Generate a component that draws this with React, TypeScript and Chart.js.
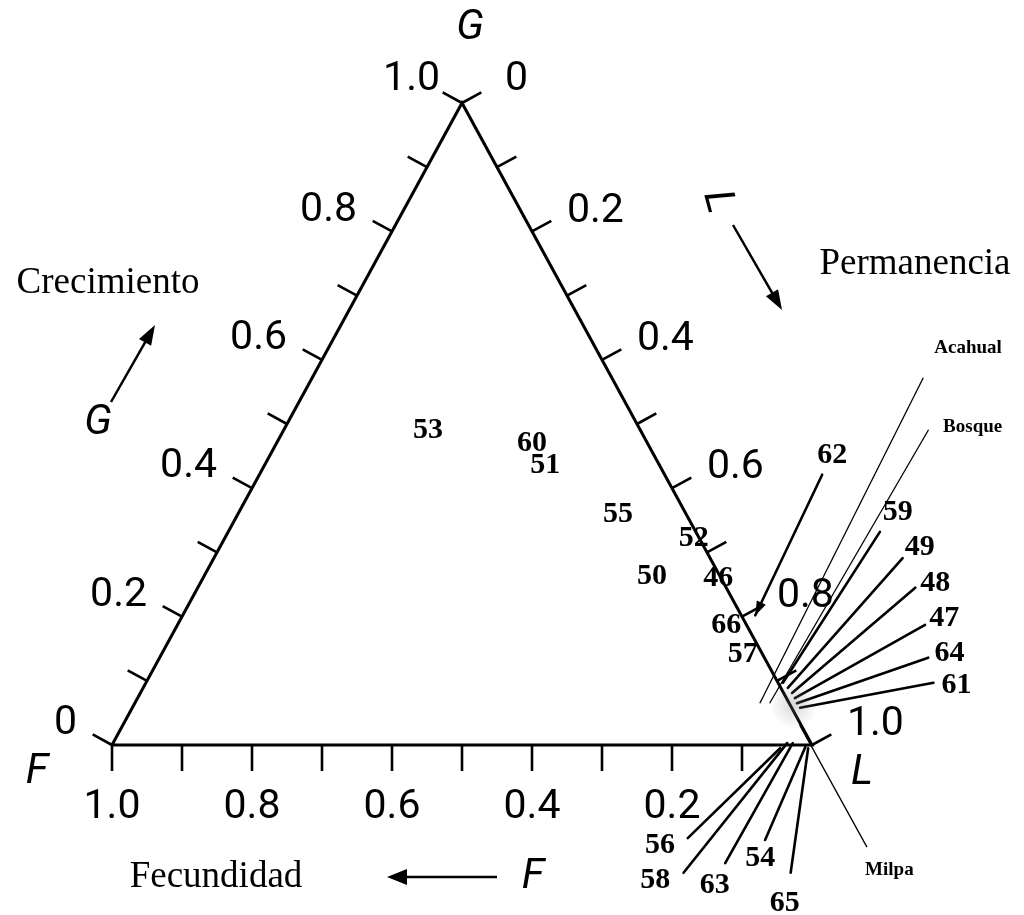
import { useEffect, useRef } from "react";
import { Chart, registerables } from "chart.js";

Chart.register(...registerables);

// Ternary composition of each sample: G = Crecimiento, L = Permanencia, F = 1 - G - L (Fecundidad)
const sampleIds = ["53", "60", "51", "55", "52", "50", "46", "66", "57"];
const sampleG = [0.491, 0.47, 0.436, 0.36, 0.322, 0.263, 0.26, 0.187, 0.142];
const sampleL = [0.206, 0.365, 0.401, 0.543, 0.67, 0.64, 0.736, 0.784, 0.83];

// Samples crowded near the L corner, shown with leader lines
const calloutIds = ["62", "59", "49", "48", "47", "64", "61", "56", "58", "63", "54", "65"];
const calloutG = [0.202, 0.097, 0.089, 0.081, 0.073, 0.065, 0.058, -0.005, 0.003, 0.003, -0.003, -0.005];
const calloutL = [0.818, 0.91, 0.921, 0.931, 0.939, 0.946, 0.954, 0.957, 0.963, 0.971, 0.992, 0.997];
const calloutTailG = [0.421, 0.332, 0.291, 0.245, 0.187, 0.136, 0.097, -0.145, -0.199, -0.184, -0.148, -0.199];
const calloutTailL = [0.804, 0.931, 0.984, 1.025, 1.068, 1.098, 1.125, 0.895, 0.916, 0.968, 1.007, 1.069];
const calloutLabelG = [0.452, 0.363, 0.308, 0.252, 0.198, 0.143, 0.093, -0.156, -0.21, -0.218, -0.176, -0.246];
const calloutLabelL = [0.803, 0.941, 1.0, 1.05, 1.09, 1.125, 1.16, 0.861, 0.881, 0.97, 1.014, 1.084];

// Habitat reference points
const habitatNames = ["Acahual", "Bosque", "Milpa"];
const habitatG = [0.065, 0.065, 0.031];
const habitatL = [0.893, 0.907, 0.967];
const habitatTailG = [0.572, 0.491, -0.159];
const habitatTailL = [0.873, 0.921, 1.158];
const habitatLabelG = [0.618, 0.495, -0.195];
const habitatLabelL = [0.914, 0.982, 1.208];

// Axis ticks and labels
const minorTicks = [0, 0.1, 0.2, 0.3, 0.4, 0.5, 0.6, 0.7, 0.8, 0.9, 1.0];
const sideTickLabels = ["0", "0.2", "0.4", "0.6", "0.8", "1.0"];
const sideTickValues = [0, 0.2, 0.4, 0.6, 0.8, 1.0];
const bottomTickLabels = ["1.0", "0.8", "0.6", "0.4", "0.2"];
const bottomTickValues = [1.0, 0.8, 0.6, 0.4, 0.2];

// Cartesian position of a ternary point (x across the base, y = height)
const toXY = (g: number, l: number) => ({ x: l + g / 2, y: g });

// Canvas framing of the unit triangle
const W = 1024;
const H = 915;
const X0 = 112; // pixel of x = 0
const XS = 700; // pixels per x unit
const Y0 = 745; // pixel of y = 0
const YS = 642; // pixels per y unit

const SERIF = "'Liberation Serif', 'Times New Roman', serif";
const SANS = "Roboto, 'Liberation Sans', sans-serif";

function arrow(ctx: CanvasRenderingContext2D, x1: number, y1: number, x2: number, y2: number, len: number, wid: number, lw: number) {
  const dx = x2 - x1, dy = y2 - y1;
  const d = Math.hypot(dx, dy);
  const ux = dx / d, uy = dy / d;
  ctx.save();
  ctx.strokeStyle = "#000";
  ctx.fillStyle = "#000";
  ctx.lineWidth = lw;
  ctx.beginPath();
  ctx.moveTo(x1, y1);
  ctx.lineTo(x2 - ux * len * 0.8, y2 - uy * len * 0.8);
  ctx.stroke();
  ctx.beginPath();
  ctx.moveTo(x2, y2);
  ctx.lineTo(x2 - ux * len - uy * wid / 2, y2 - uy * len + ux * wid / 2);
  ctx.lineTo(x2 - ux * len + uy * wid / 2, y2 - uy * len - ux * wid / 2);
  ctx.closePath();
  ctx.fill();
  ctx.restore();
}

const decorPlugin = {
  id: "ternaryDecor",
  afterDatasetsDraw(chart: any) {
    const ctx: CanvasRenderingContext2D = chart.ctx;
    const sx = chart.scales.x, sy = chart.scales.y;
    const P = (g: number, l: number) => {
      const c = toXY(g, l);
      return { x: sx.getPixelForValue(c.x), y: sy.getPixelForValue(c.y) };
    };
    const pF = P(0, 0), pG = P(1, 0), pL = P(0, 1);
    const norm = (a: any, b: any) => {
      const dx = b.x - a.x, dy = b.y - a.y, d = Math.hypot(dx, dy);
      return { x: dy / d, y: -dx / d };
    };
    const nLeft = norm(pF, pG), nRight = norm(pG, pL), nBottom = norm(pL, pF);

    ctx.save();
    // faint smudge near the L corner, as in the scan
    const grad = ctx.createRadialGradient(pL.x - 18, pL.y - 40, 2, pL.x - 18, pL.y - 40, 24);
    grad.addColorStop(0, "rgba(130,130,130,0.28)");
    grad.addColorStop(1, "rgba(130,130,130,0)");
    ctx.fillStyle = grad;
    ctx.fillRect(pL.x - 50, pL.y - 75, 70, 80);

    // ticks
    ctx.strokeStyle = "#000";
    ctx.lineWidth = 2.6;
    ctx.lineCap = "butt";
    const tick = (p: any, n: any, len: number) => {
      ctx.beginPath();
      ctx.moveTo(p.x, p.y);
      ctx.lineTo(p.x + n.x * len, p.y + n.y * len);
      ctx.stroke();
    };
    minorTicks.forEach((v) => {
      tick(P(v, 0), nLeft, 22); // G axis along left edge
      tick(P(1 - v, v), nRight, 22); // L axis along right edge
      if (v > 0) tick(P(0, 1 - v), nBottom, 26); // F axis along base
    });

    // tick labels
    ctx.fillStyle = "#000";
    ctx.font = `400 41px ${SANS}`;
    ctx.textBaseline = "middle";
    sideTickValues.forEach((v, i) => {
      const p = P(v, 0);
      ctx.textAlign = "right";
      if (v === 1) ctx.fillText(sideTickLabels[i], p.x - 22, p.y - 23);
      else ctx.fillText(sideTickLabels[i], p.x - 35, p.y - 21);
      const q = P(1 - v, v);
      ctx.textAlign = "left";
      if (v === 0) ctx.fillText(sideTickLabels[i], q.x + 43, q.y - 23);
      else ctx.fillText(sideTickLabels[i], q.x + 35, q.y - 20);
    });
    ctx.textAlign = "center";
    bottomTickValues.forEach((v, i) => {
      const p = P(0, 1 - v);
      ctx.fillText(bottomTickLabels[i], p.x, p.y + 63);
    });

    // axis letters
    ctx.font = `italic 400 42px ${SANS}`;
    ctx.textAlign = "center";
    ctx.fillText("G", pG.x + 8, pG.y - 75);
    ctx.fillText("F", pF.x - 75, pF.y + 27);
    ctx.fillText("L", pL.x + 50, pL.y + 28);
    ctx.fillText("G", pF.x - 14, pF.y - 322);
    ctx.fillText("F", pF.x + 421, pF.y + 132);
    ctx.save();
    ctx.translate(pG.x + 255, pG.y + 99);
    ctx.rotate((75 * Math.PI) / 180);
    ctx.fillText("L", 0, 0);
    ctx.restore();

    // direction arrows
    arrow(ctx, pF.x - 1, pF.y - 343, pF.x + 43, pF.y - 420, 20, 14, 2.5);
    arrow(ctx, pG.x + 271, pG.y + 122, pG.x + 320, pG.y + 207, 20, 14, 2.5);
    arrow(ctx, pF.x + 385, pF.y + 132, pF.x + 275, pF.y + 132, 20, 16, 2.5);

    // titles
    ctx.font = `37px ${SERIF}`;
    ctx.textAlign = "center";
    ctx.fillText("Crecimiento", pF.x - 4, pF.y - 462);
    ctx.fillText("Permanencia", pL.x + 103, pG.y + 161);
    ctx.fillText("Fecundidad", pF.x + 104, pF.y + 132);

    // sample numbers
    ctx.font = `bold 30px ${SERIF}`;
    ctx.textAlign = "center";
    sampleIds.forEach((id, i) => {
      const p = P(sampleG[i], sampleL[i]);
      ctx.fillText(id, p.x, p.y);
    });
    calloutIds.forEach((id, i) => {
      const p = P(calloutLabelG[i], calloutLabelL[i]);
      ctx.fillText(id, p.x, p.y);
    });
    // arrow tip for 62
    {
      const a = P(calloutTailG[0], calloutTailL[0]);
      const b = P(calloutG[0], calloutL[0]);
      const dx = b.x - a.x, dy = b.y - a.y, d = Math.hypot(dx, dy);
      const ux = dx / d, uy = dy / d;
      ctx.beginPath();
      ctx.moveTo(b.x, b.y);
      ctx.lineTo(b.x - ux * 14 - uy * 5, b.y - uy * 14 + ux * 5);
      ctx.lineTo(b.x - ux * 14 + uy * 5, b.y - uy * 14 - ux * 5);
      ctx.closePath();
      ctx.fill();
    }
    ctx.font = `bold 19px ${SERIF}`;
    habitatNames.forEach((n, i) => {
      const p = P(habitatLabelG[i], habitatLabelL[i]);
      ctx.fillText(n, p.x, p.y);
    });
    ctx.restore();
  },
};

export default function App() {
  const ref = useRef<HTMLCanvasElement>(null);
  useEffect(() => {
    const canvas = ref.current;
    if (!canvas) return;
    const tri = [toXY(0, 0), toXY(0, 1), toXY(1, 0), toXY(0, 0)];
    const datasets: any[] = [
      {
        label: "triangle",
        data: tri,
        showLine: true,
        borderColor: "#000",
        borderWidth: 3,
        pointRadius: 0,
        tension: 0,
        fill: false,
      },
      {
        label: "samples",
        data: sampleIds.map((_, i) => toXY(sampleG[i], sampleL[i])),
        pointRadius: 0,
        showLine: false,
      },
    ];
    calloutIds.forEach((id, i) => {
      datasets.push({
        label: id,
        data: [toXY(calloutTailG[i], calloutTailL[i]), toXY(calloutG[i], calloutL[i])],
        showLine: true,
        borderColor: "#000",
        borderWidth: 2.6,
        pointRadius: 0,
        borderCapStyle: "round",
      });
    });
    habitatNames.forEach((n, i) => {
      datasets.push({
        label: n,
        data: [toXY(habitatTailG[i], habitatTailL[i]), toXY(habitatG[i], habitatL[i])],
        showLine: true,
        borderColor: "#000",
        borderWidth: 1.3,
        pointRadius: 0,
      });
    });
    const chart = new Chart(canvas, {
      type: "scatter",
      data: { datasets },
      options: {
        responsive: false,
        animation: false,
        devicePixelRatio: 1,
        layout: { padding: 0 },
        plugins: { legend: { display: false }, tooltip: { enabled: false }, title: { display: false } },
        scales: {
          x: { type: "linear", display: false, min: -X0 / XS, max: (W - X0) / XS },
          y: { type: "linear", display: false, min: (Y0 - H) / YS, max: Y0 / YS },
        },
      },
      plugins: [decorPlugin],
    } as any);
    return () => chart.destroy();
  }, []);
  return (
    <div style={{ position: "absolute", left: 0, top: 0, width: W, height: H, background: "#fff" }}>
      <canvas ref={ref} width={W} height={H} style={{ display: "block", width: W, height: H }} />
    </div>
  );
}
